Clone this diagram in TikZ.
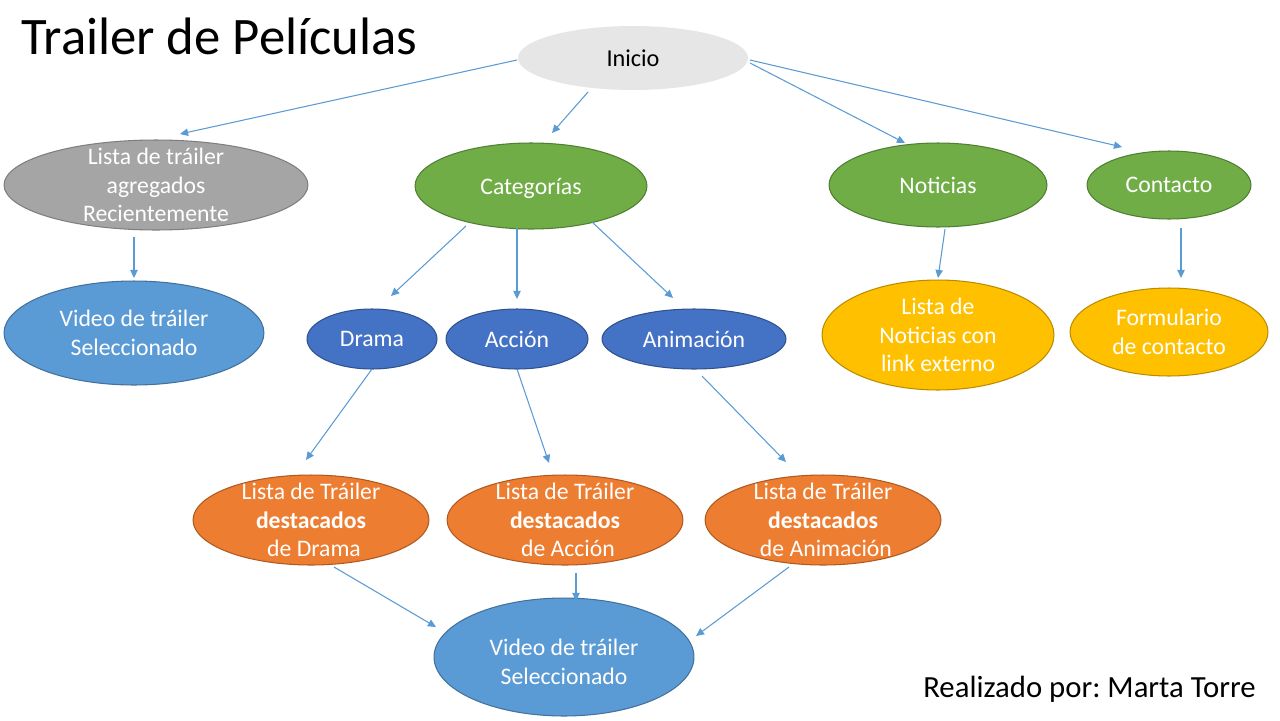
\documentclass[tikz,border=0pt]{standalone}
\usepackage{fontspec}
\setmainfont{Carlito}
\usetikzlibrary{shapes.geometric,arrows.meta}
\frenchspacing

\definecolor{inifill}{HTML}{E7E6E6}
\definecolor{grayfill}{HTML}{A5A5A5}
\definecolor{grayline}{HTML}{7F7F7F}
\definecolor{skyfill}{HTML}{5B9BD5}
\definecolor{skyline}{HTML}{41719C}
\definecolor{greenfill}{HTML}{70AD47}
\definecolor{greenline}{HTML}{507E32}
\definecolor{navyfill}{HTML}{4472C4}
\definecolor{navyline}{HTML}{2F528F}
\definecolor{goldfill}{HTML}{FFC000}
\definecolor{goldline}{HTML}{BC8C00}
\definecolor{orangefill}{HTML}{ED7D31}
\definecolor{orangeline}{HTML}{AE5A21}
\definecolor{linkblue}{HTML}{5B9BD5}

\begin{document}
\begin{tikzpicture}[x=0.02cm,y=-0.02cm,
  bub/.style={ellipse, inner sep=0pt, line width=0.6pt},
  sz/.style 2 args={minimum width=#1*0.04cm, minimum height=#2*0.04cm},
  wtxt/.style={text=white, align=center, inner sep=0pt,
    font=\fontsize{13.5}{16.4}\selectfont},
  btxt/.style={text=black, align=center, inner sep=0pt,
    font=\fontsize{13.8}{16.4}\selectfont},
  gray bub/.style={bub, fill=grayfill, draw=grayline},
  sky bub/.style={bub, fill=skyfill, draw=skyline},
  green bub/.style={bub, fill=greenfill, draw=greenline},
  navy bub/.style={bub, fill=navyfill, draw=navyline},
  gold bub/.style={bub, fill=goldfill, draw=goldline},
  orange bub/.style={bub, fill=orangefill, draw=orangeline},
  link/.style={draw=linkblue, line width=0.6pt,
    -{Triangle[length=4.6pt,width=4.2pt]}}]

\useasboundingbox[fill=white] (0,0) rectangle (1280,720);

% headings
\node[anchor=base west, inner sep=0pt, font=\fontsize{30}{36}\selectfont]
  (title) at (21,54) {Trailer de Películas};
\node[anchor=base east, inner sep=0pt, font=\fontsize{17.5}{21}\selectfont]
  (author) at (1256,697) {Realizado por: Marta Torre};

% top level
\node[bub, fill=inifill, sz={115}{32}, label={[btxt]center:Inicio}]
  (inicio) at (633,58) {};

% second level
\node[gray bub, sz={152}{45},
  label={[wtxt]center:{Lista de tráiler\\agregados\\Recientemente}}]
  (recientes) at (156,185) {};
\node[green bub, sz={116}{43}, label={[wtxt, yshift=-0.04cm]center:Categorías}]
  (categorias) at (531,186) {};
\node[green bub, sz={109}{42}, label={[wtxt]center:Noticias}]
  (noticias) at (938,185) {};
\node[green bub, sz={82}{34}, label={[wtxt]center:Contacto}]
  (contacto) at (1169,185) {};

% third level
\node[sky bub, sz={130}{52},
  label={[wtxt]center:{Video de tráiler\\Seleccionado}}]
  (video1) at (134,333) {};
\node[navy bub, sz={65}{30}, label={[wtxt]center:Drama}]
  (drama) at (372,339) {};
\node[navy bub, sz={71}{30}, label={[wtxt]center:Acción}]
  (accion) at (517,339) {};
\node[navy bub, sz={92}{30}, label={[wtxt]center:Animación}]
  (animacion) at (694,339) {};
\node[gold bub, sz={116}{55},
  label={[wtxt]center:{Lista de\\Noticias con\\link externo}}]
  (listanot) at (938,335) {};
\node[gold bub, sz={99}{44},
  label={[wtxt]center:{Formulario\\de contacto}}]
  (formulario) at (1169,332) {};

% featured lists
\node[orange bub, sz={118}{45},
  label={[wtxt]center:{Lista de Tráiler\\\textbf{destacados}\\\hspace*{0.25em}de Drama}}]
  (destdrama) at (311,520) {};
\node[orange bub, sz={118}{45},
  label={[wtxt]center:{Lista de Tráiler\\\textbf{destacados}\\\hspace*{0.25em}de Acción}}]
  (destaccion) at (565,520) {};
\node[orange bub, sz={118}{45},
  label={[wtxt]center:{Lista de Tráiler\\\textbf{destacados}\\\hspace*{0.25em}de Animación}}]
  (destanim) at (823,520) {};

% selected trailer
\node[sky bub, sz={130}{59},
  label={[wtxt, yshift=-0.1cm]center:{Video de tráiler\\Seleccionado}}]
  (video2) at (564,657) {};

% connector end points
\coordinate (c1s) at (517,60);   \coordinate (c1e) at (180,134);
\coordinate (c2s) at (588,92);   \coordinate (c2e) at (552,133);
\coordinate (c3s) at (750,63);   \coordinate (c3e) at (905,143);
\coordinate (c4s) at (750,60);   \coordinate (c4e) at (1122,147);
\coordinate (c5s) at (134,237);  \coordinate (c5e) at (134,278);
\coordinate (c6s) at (466,226);  \coordinate (c6e) at (391,296);
\coordinate (c7s) at (517,228);  \coordinate (c7e) at (517,299);
\coordinate (c8s) at (592,222);  \coordinate (c8e) at (673,298);
\coordinate (c9s) at (945,229);  \coordinate (c9e) at (938,278);
\coordinate (c10s) at (1181,228); \coordinate (c10e) at (1181,278);
\coordinate (c11s) at (372,369); \coordinate (c11e) at (306,460);
\coordinate (c12s) at (517,369); \coordinate (c12e) at (549,463);
\coordinate (c13s) at (702,376); \coordinate (c13e) at (786,462);
\coordinate (c14s) at (334,567); \coordinate (c14e) at (436,627);
\coordinate (c15s) at (576,573); \coordinate (c15e) at (576,601);
\coordinate (c16s) at (789,567); \coordinate (c16e) at (696,636);

% connectors
\draw[link] (c1s) -- (c1e);
\draw[link] (c2s) -- (c2e);
\draw[link] (c3s) -- (c3e);
\draw[link] (c4s) -- (c4e);
\draw[link] (c5s) -- (c5e);
\draw[link] (c6s) -- (c6e);
\draw[link] (c7s) -- (c7e);
\draw[link] (c8s) -- (c8e);
\draw[link] (c9s) -- (c9e);
\draw[link] (c10s) -- (c10e);
\draw[link] (c11s) -- (c11e);
\draw[link] (c12s) -- (c12e);
\draw[link] (c13s) -- (c13e);
\draw[link] (c14s) -- (c14e);
\draw[link] (c15s) -- (c15e);
\draw[link] (c16s) -- (c16e);
\end{tikzpicture}
\end{document}
